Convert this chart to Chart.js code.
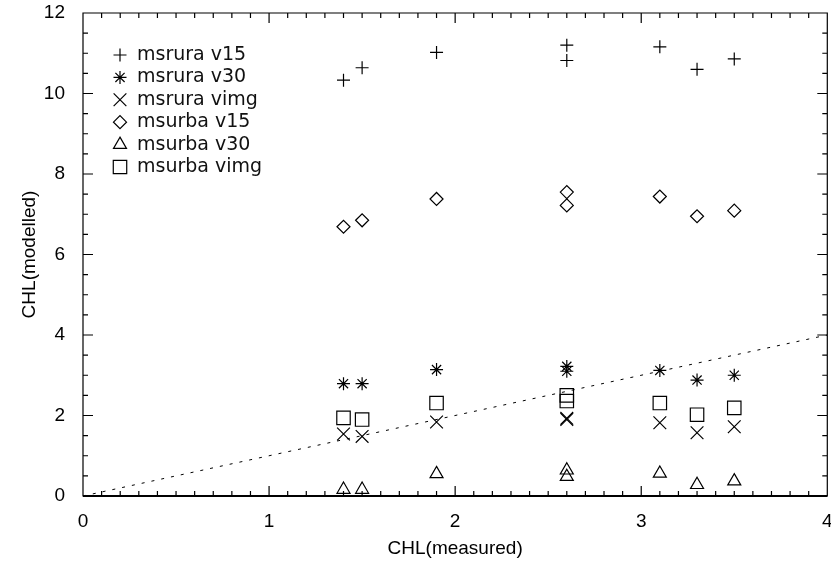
<!DOCTYPE html>
<html>
<head>
<meta charset="utf-8">
<script src="https://cdn.jsdelivr.net/npm/chart.js@4/dist/chart.umd.min.js"></script>
<style>
  html, body { margin: 0; padding: 0; background: #fff; overflow: hidden; }
  canvas { display: block; }
</style>
</head>
<body>
<!-- slightly wider than the window so the last x label runs off the edge like the original -->
<canvas id="scatter" width="838" height="562"></canvas>
<script>
// measured CHL for each station (some stations appear twice)
const measured = [1.4, 1.5, 1.9, 2.6, 2.6, 3.1, 3.3, 3.5];

// modelled CHL per run
const msruraV15  = [10.33, 10.64, 11.02, 11.20, 10.82, 11.16, 10.60, 10.86];
const msruraV30  = [2.79, 2.79, 3.14, 3.22, 3.10, 3.12, 2.88, 3.00];
const msruraVimg = [1.54, 1.48, 1.84, 1.93, 1.90, 1.82, 1.57, 1.72];
const msurbaV15  = [6.69, 6.85, 7.38, 7.55, 7.22, 7.44, 6.95, 7.09];
const msurbaV30  = [0.16, 0.16, 0.55, 0.64, 0.48, 0.56, 0.28, 0.37];
const msurbaVimg = [1.94, 1.90, 2.31, 2.50, 2.36, 2.31, 2.02, 2.19];

const oneToOne = [0, 4];

const xTicks = [0, 1, 2, 3, 4];
const yTicks = [0, 2, 4, 6, 8, 10, 12];

const BLACK = '#000';
const FONT = "'Liberation Sans', Arial, sans-serif";

function pts(ys) {
    return measured.map((x, i) => ({ x: x, y: ys[i] }));
}

function series(label, ys, style, radius) {
    return {
        label: label,
        data: pts(ys),
        pointStyle: style,
        pointRadius: radius,
        pointHoverRadius: radius,
        pointBorderWidth: 1.2,
        borderColor: BLACK,
        backgroundColor: 'rgba(0,0,0,0)',
        pointBackgroundColor: 'rgba(0,0,0,0)',
        showLine: false
    };
}

const datasets = [
    series('msrura v15', msruraV15, 'cross', 6.5),
    series('msrura v30', msruraV30, 'star', 6.5),
    series('msrura vimg', msruraVimg, 'crossRot', 9),
    series('msurba v15', msurbaV15, 'rectRot', 6.5),
    series('msurba v30', msurbaV30, 'triangle', 7.5),
    series('msurba vimg', msurbaVimg, 'rect', 9.5),
    {
        label: '',
        type: 'line',
        data: oneToOne.map(v => ({ x: v, y: v })),
        borderColor: BLACK,
        borderWidth: 1,
        borderDash: [3, 7],
        pointRadius: 0,
        fill: false
    }
];

// frame with inward IDL-style ticks
const frameTicks = {
    id: 'frameTicks',
    afterDraw(chart) {
        const ctx = chart.ctx;
        const a = chart.chartArea;
        const sx = chart.scales.x, sy = chart.scales.y;
        ctx.save();
        ctx.setLineDash([]);
        ctx.strokeStyle = BLACK;
        ctx.lineWidth = 1.2;
        ctx.beginPath();
        ctx.rect(a.left, a.top, a.right - a.left, a.bottom - a.top);
        for (let i = 0; i <= 40; i++) {
            const px = sx.getPixelForValue(i / 10);
            const len = i % 10 === 0 ? 10 : 5;
            ctx.moveTo(px, a.bottom);
            ctx.lineTo(px, a.bottom - len);
            ctx.moveTo(px, a.top);
            ctx.lineTo(px, a.top + len);
        }
        for (let i = 0; i <= 24; i++) {
            const py = sy.getPixelForValue(i / 2);
            const len = i % 4 === 0 ? 10 : 5;
            ctx.moveTo(a.left, py);
            ctx.lineTo(a.left + len, py);
            ctx.moveTo(a.right, py);
            ctx.lineTo(a.right - len, py);
        }
        ctx.stroke();
        ctx.lineWidth = 2;
        ctx.beginPath();
        ctx.moveTo(a.left, a.bottom);
        ctx.lineTo(a.right, a.bottom);
        ctx.stroke();
        ctx.restore();
    }
};

// legend drawn inside the plot, top left
const insideLegend = {
    id: 'insideLegend',
    afterDraw(chart) {
        const ctx = chart.ctx;
        ctx.save();
        ctx.setLineDash([]);
        ctx.font = "19px 'DejaVu Sans', sans-serif";
        ctx.textBaseline = 'middle';
        ctx.strokeStyle = BLACK;
        ctx.lineWidth = 1.2;
        chart.data.datasets.forEach((ds, i) => {
            if (!ds.label) return;
            const y = 55 + i * 22.4;
            ctx.fillStyle = 'rgba(0,0,0,0)';
            Chart.helpers.drawPoint(ctx, {
                pointStyle: ds.pointStyle,
                radius: ds.pointRadius,
                borderWidth: 1.2,
                rotation: 0
            }, 120, y);
            ctx.fillStyle = '#111';
            ctx.fillText(ds.label, 137, y);
        });
        ctx.restore();
    }
};

new Chart(document.getElementById('scatter'), {
    type: 'scatter',
    data: { datasets: datasets },
    plugins: [frameTicks, insideLegend],
    options: {
        responsive: false,
        animation: false,
        layout: { padding: { top: 13, right: 0, left: 0, bottom: 0 } },
        plugins: {
            legend: { display: false },
            tooltip: { enabled: false }
        },
        scales: {
            x: {
                type: 'linear',
                min: 0,
                max: 4,
                afterBuildTicks: s => { s.ticks = xTicks.map(v => ({ value: v })); },
                afterFit: s => { s.height = 66; s.paddingLeft = 0; s.paddingRight = 0; },
                grid: { display: false },
                border: { display: false },
                ticks: { color: BLACK, font: { family: FONT, size: 19 }, padding: 6 },
                title: {
                    display: true,
                    text: 'CHL(measured)',
                    color: BLACK,
                    font: { family: FONT, size: 19 },
                    padding: { top: 2, bottom: 2 }
                }
            },
            y: {
                type: 'linear',
                min: 0,
                max: 12,
                afterBuildTicks: s => { s.ticks = yTicks.map(v => ({ value: v })); },
                afterFit: s => { s.width = 83; s.paddingTop = 0; s.paddingBottom = 0; },
                grid: { display: false },
                border: { display: false },
                ticks: { color: BLACK, font: { family: FONT, size: 19 }, padding: 10 },
                title: {
                    display: true,
                    text: 'CHL(modelled)',
                    color: BLACK,
                    font: { family: FONT, size: 19 },
                    padding: { top: 18, bottom: 18 }
                }
            }
        }
    }
});
</script>
</body>
</html>
